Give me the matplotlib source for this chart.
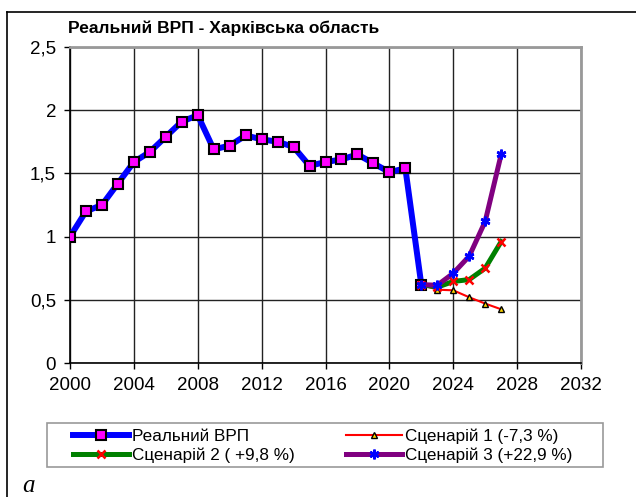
import matplotlib.pyplot as plt
from matplotlib.lines import Line2D
from matplotlib.patches import Rectangle
from matplotlib.ticker import FuncFormatter

plt.rcParams['font.family'] = ['Liberation Sans', 'DejaVu Sans']

# Real GRP, 2000-2022
years_real = list(range(2000, 2023))
grp_real = [1.00, 1.20, 1.25, 1.42, 1.59, 1.67, 1.79, 1.91, 1.96, 1.69, 1.72,
            1.80, 1.77, 1.75, 1.71, 1.56, 1.59, 1.61, 1.65, 1.58, 1.51, 1.54, 0.62]

# Scenarios, 2022-2027
years_scen = list(range(2022, 2028))
scen1 = [0.62, 0.58, 0.575, 0.52, 0.47, 0.425]
scen2 = [0.62, 0.60, 0.645, 0.66, 0.75, 0.96]
scen3 = [0.62, 0.615, 0.71, 0.845, 1.12, 1.65]

labels = ['Реальний ВРП', 'Сценарій 1 (-7,3 %)', 'Сценарій 2 ( +9,8 %)', 'Сценарій 3 (+22,9 %)']

fig = plt.figure(figsize=(6.36, 4.97), dpi=100)
ax = fig.add_axes([70 / 636, 1 - 363 / 497, (581 - 70) / 636, (363 - 47) / 497])

# Plot the lines
l0, = ax.plot(years_real, grp_real, color='blue', lw=4.3, marker='s', ms=6.5,
              mfc='magenta', mec='black', mew=1.5, zorder=3)
l1, = ax.plot(years_scen, scen1, color='red', lw=1.5, marker='^', ms=5,
              mfc='#ffd700', mec='black', mew=1, zorder=4)
l2, = ax.plot(years_scen, scen2, color='green', lw=3.6, marker='x', ms=6,
              mec='red', mew=1.8, zorder=5)
l3, = ax.plot(years_scen, scen3, color='purple', lw=3.6, marker=(6, 2, 0), ms=7,
              mec='blue', mew=1.8, zorder=6)

ax.set_xlim(2000, 2032)
ax.set_ylim(0, 2.5)
ax.set_xticks(range(2000, 2033, 4))
ax.set_yticks([0, 0.5, 1, 1.5, 2, 2.5])
ax.yaxis.set_major_formatter(FuncFormatter(lambda v, p: ('%g' % v).replace('.', ',')))
ax.grid(True, color='#222222', lw=1)
ax.set_axisbelow(True)
ax.tick_params(labelsize=13.5, length=4, width=1, direction='out', color='black')
ax.tick_params(axis='y', pad=6)
ax.tick_params(axis='x', pad=6)

for s in ['top', 'right']:
    ax.spines[s].set_color('#999999')
    ax.spines[s].set_linewidth(2)
for s in ['left', 'bottom']:
    ax.spines[s].set_color('black')
    ax.spines[s].set_linewidth(1.2)

# Title
fig.text(68 / 636, 1 - 28 / 497, 'Реальний ВРП - Харківська область',
         fontsize=12.5, fontweight='bold', ha='left', va='center')

# Legend frame and entries under the plot
fig.add_artist(Rectangle((47 / 636, 1 - 467 / 497), (603 - 47) / 636, 44 / 497,
                         transform=fig.transFigure, fill=False,
                         edgecolor='#999999', lw=1.2))
leg = fig.legend([l0, l2, l1, l3], [labels[0], labels[2], labels[1], labels[3]],
                 ncol=2, loc='center left',
                 bbox_to_anchor=(73 / 636, 1 - 445.5 / 497),
                 fontsize=12.3, handlelength=3.3, handletextpad=0.15,
                 columnspacing=3.0, borderpad=0, labelspacing=0.2,
                 borderaxespad=0, frameon=False)

# Outer border (left and top visible)
fig.add_artist(Line2D([6.5 / 636, 6.5 / 636], [0, 1 - 11.5 / 497], color='black', lw=1.2,
                      transform=fig.transFigure))
fig.add_artist(Line2D([6.5 / 636, 1], [1 - 11.5 / 497, 1 - 11.5 / 497], color='black', lw=1.2,
                      transform=fig.transFigure))

fig.text(22 / 636, 1 - 492 / 497, 'a', family='Liberation Serif', style='italic',
         fontsize=18, ha='left', va='baseline')

fig.savefig('out.png', dpi=100)
